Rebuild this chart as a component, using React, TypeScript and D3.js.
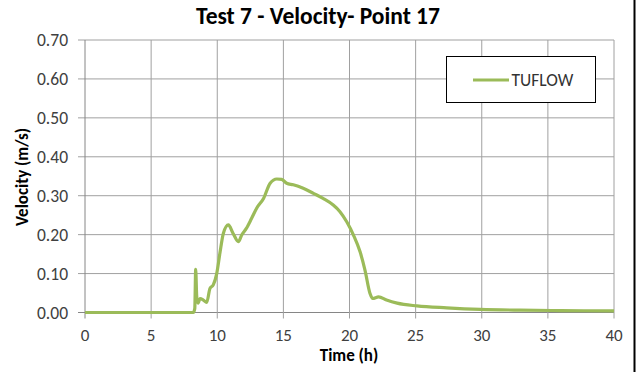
import React from "react";
import * as d3 from "d3";

const title = "Test 7 - Velocity- Point 17";
const seriesName = "TUFLOW";
const xTicks = [0, 5, 10, 15, 20, 25, 30, 35, 40];
const yTicks = [0, 0.1, 0.2, 0.3, 0.4, 0.5, 0.6, 0.7];

const timeH = [
  0, 8.19, 8.3, 8.37, 8.45, 8.55, 8.7, 8.95, 9.2, 9.45, 9.7, 9.96, 10.2, 10.46, 10.84,
  11.2, 11.6, 11.85, 12.2, 12.6, 12.98, 13.5, 14.0, 14.5, 14.87, 15.25, 15.75, 16.5,
  17.27, 18.0, 18.77, 19.28, 19.79, 20.3, 20.8, 21.17, 21.55, 21.75, 22.2, 22.8, 23.6,
  25.1, 27.35, 29.9, 32.9, 36.0, 40,
];
const velocity = [
  0, 0, 0.01, 0.111, 0.04, 0.024, 0.036, 0.032, 0.026, 0.062, 0.071, 0.1, 0.152, 0.203,
  0.225, 0.203, 0.182, 0.199, 0.216, 0.242, 0.268, 0.293, 0.332, 0.343, 0.342, 0.332,
  0.328, 0.319, 0.306, 0.293, 0.276, 0.259, 0.233, 0.199, 0.156, 0.109, 0.049, 0.036,
  0.04, 0.032, 0.024, 0.017, 0.012, 0.008, 0.006, 0.005, 0.004,
];

const W = 636;
const H = 372;
const L = 85;
const R = 614;
const T = 40;
const B = 312.5;

export default function App() {
  const x = d3.scaleLinear().domain([0, 40]).range([L, R]);
  const y = d3.scaleLinear().domain([0, 0.7]).range([B, T]);
  const pts: [number, number][] = timeH.map((t, i) => [t, velocity[i]]);
  const line = d3
    .line<[number, number]>()
    .x((d) => x(d[0]))
    .y((d) => y(d[1]))
    .curve(d3.curveMonotoneX);
  const green = "#9BBB59";
  const grid = "#a0a0a0";
  const axisC = "#868686";
  const font = "Carlito, Lato, 'Liberation Sans', sans-serif";
  return (
    <svg
      width={W}
      height={H}
      style={{ position: "absolute", left: 0, top: 0, background: "#fff" }}
      fontFamily={font}
    >
      <rect x={0} y={0} width={W} height={H} fill="#fff" />
      <text x={318} y={24} textAnchor="middle" fontSize={23.5} fontWeight="bold" fill="#000">
        {title}
      </text>
      {yTicks.map((v) => (
        <g key={"y" + v}>
          <line x1={L - 7} x2={R} y1={y(v)} y2={y(v)} stroke={v === 0 ? axisC : grid} strokeWidth={1} />
          <text x={68} y={y(v) + 6} textAnchor="end" fontSize={17.5} fill="#404040">
            {v.toFixed(2)}
          </text>
        </g>
      ))}
      {xTicks.map((v) => (
        <g key={"x" + v}>
          <line x1={x(v)} x2={x(v)} y1={T} y2={B + 6} stroke={v === 0 ? axisC : grid} strokeWidth={1} />
          <text x={x(v)} y={340.5} textAnchor="middle" fontSize={17} fill="#404040">
            {v}
          </text>
        </g>
      ))}
      <path d={line(pts) || ""} fill="none" stroke={green} strokeWidth={3.2} strokeLinejoin="round" />
      <text x={349} y={361} textAnchor="middle" fontSize={17} fontWeight="bold" fill="#000">
        Time (h)
      </text>
      <text
        transform={`translate(28,177) rotate(-90)`}
        textAnchor="middle"
        fontSize={17}
        fontWeight="bold"
        fill="#000"
      >
        Velocity (m/s)
      </text>
      <rect x={446.5} y={56.5} width={149} height={46} fill="#fff" stroke="#000" strokeWidth={1} />
      <line x1={473} x2={509} y1={80} y2={80} stroke={green} strokeWidth={3.2} />
      <text x={511.5} y={85.5} fontSize={17.5} fill="#333">
        {seriesName}
      </text>
      <line x1={634.5} x2={634.5} y1={0} y2={H} stroke="#000" strokeWidth={2} />
    </svg>
  );
}
